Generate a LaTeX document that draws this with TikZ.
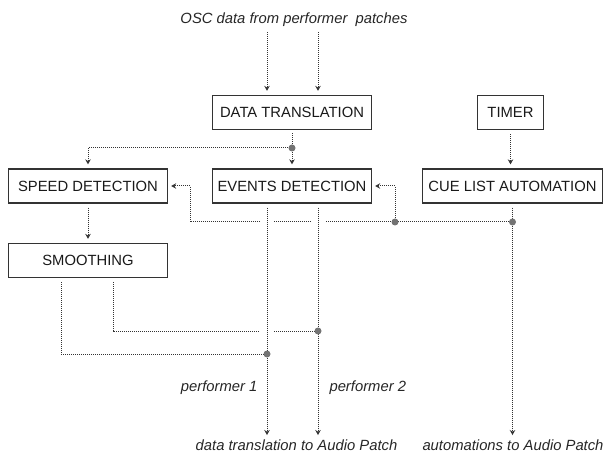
\documentclass[tikz,border=0pt]{standalone}
\usepackage{fontspec}
\setmainfont{Liberation Sans}
\usepackage{tikz}
\usetikzlibrary{calc, math}
\usetikzlibrary{arrows.meta}
\usetikzlibrary{positioning}
\definecolor{wirecolor}{rgb}{0.2,0.2,0.2}
\definecolor{dotcolor}{rgb}{0.45,0.45,0.45}
\definecolor{boxcolor}{rgb}{0.2,0.2,0.2}

\begin{document}
\begin{tikzpicture}[x=1pt, y=-1pt,
    block/.style={draw=boxcolor, line width=1.3pt, minimum height=34pt, inner sep=0pt,
      text=black!90, font=\fontsize{14.8}{17}\selectfont},
    textlabel/.style={text=black!85, font=\fontsize{14.8}{17}\selectfont\itshape},
    flow/.style={draw=wirecolor, line width=1pt, dash pattern=on 1pt off 1pt},
    arrowed/.style={-{Stealth[length=5pt, width=5.5pt]}}]
  \tikzmath{
    \ysplit=148;
    \ybus=222;
    \ymixb=331;
    \ymixa=354;
    \gap=7;
  }
  \useasboundingbox (0,0) rectangle (605,454);

  % boxes
  \node[textlabel] (osc) at (294,20) {OSC data from performer\ \ patches};
  \node[block, minimum width=159pt] (translation) at (292,112.5) {DATA TRANSLATION};
  \node[block, minimum width=66pt] (timer) at (510.5,112.5) {TIMER};
  \node[block, minimum width=159pt] (speed) at (88,186) {SPEED DETECTION};
  \node[block, minimum width=159pt] (events) at (292,186) {EVENTS DETECTION};
  \node[block, minimum width=180pt] (cue) at (512.5,186) {CUE LIST AUTOMATION};
  \node[block, minimum width=159pt] (smoothing) at (88,260.5) {SMOOTHING};

  % outputs
  \node[textlabel, anchor=east] (perfa) at (261,388) {performer 1};
  \node[textlabel, anchor=west] (perfb) at (326,388) {performer 2};
  \node[textlabel] (outdata) at (296.5,445) {data translation to Audio Patch};
  \node[textlabel] (outcue) at (513,445) {automations to Audio Patch};

  \coordinate (ina) at ([xshift=-25pt]translation.north);
  \coordinate (inb) at ([xshift=26pt]translation.north);
  \coordinate (outa) at ([xshift=-25pt]events.south);
  \coordinate (outb) at ([xshift=26pt]events.south);
  \coordinate (smootha) at ([xshift=-27pt]smoothing.south);
  \coordinate (smoothb) at ([xshift=25pt]smoothing.south);

  \coordinate (split) at (translation.south |- 0,\ysplit);
  \coordinate (busend) at (cue.south |- 0,\ybus);
  \coordinate (busmid) at (395,\ybus);
  \coordinate (busturn) at (190,\ybus);
  \coordinate (crossa) at (outa |- busmid);
  \coordinate (crossb) at (outb |- busmid);
  \coordinate (mixa) at (outa |- 0,\ymixa);
  \coordinate (mixb) at (outb |- 0,\ymixb);
  \coordinate (crossmix) at (outa |- mixb);

  % data from the performer patches
  \draw[flow, arrowed, shorten <=2pt, shorten >=4pt] (osc.south -| ina) -- (ina);
  \draw[flow, arrowed, shorten <=2pt, shorten >=4pt] (osc.south -| inb) -- (inb);

  \draw[flow, shorten <=3pt] (translation.south) -- (split);
  \draw[flow, arrowed, shorten >=4pt] (split) -- (events.north);
  \draw[flow, arrowed, shorten >=4pt] (split) -| (speed.north);
  \draw[flow, arrowed, shorten <=4pt, shorten >=4pt] (speed.south) -- (smoothing.north);
  \draw[flow, arrowed, shorten <=4pt, shorten >=4pt] (timer.south) -- (timer.south |- cue.north);

  % cue list goes back to both detections (gaps where it crosses)
  \draw[flow, arrowed, shorten <=4pt, shorten >=1pt] (cue.south) -- (cue.south |- outcue.north);
  \draw[flow] (busend) -- ([xshift=\gap pt]crossb);
  \draw[flow] ([xshift=-\gap pt]crossb) -- ([xshift=\gap pt]crossa);
  \draw[flow, arrowed, shorten >=3pt] ([xshift=-\gap pt]crossa) -- (busturn) |- (speed.east);
  \draw[flow, arrowed, shorten >=3pt] (busmid) |- (events.east);

  % one line per performer
  \draw[flow, arrowed, shorten <=4pt, shorten >=1pt] (outa) -- (outa |- outdata.north);
  \draw[flow, arrowed, shorten <=4pt, shorten >=1pt] (outb) -- (outb |- outdata.north);

  \draw[flow, shorten <=4pt] (smootha) |- (mixa);
  \draw[flow, shorten <=4pt] (smoothb) |- ([xshift=-\gap pt]crossmix);
  \draw[flow] ([xshift=\gap pt]crossmix) -- (mixb);

  \foreach \p in {split, busmid, busend, mixa, mixb}
    \fill[dotcolor] (\p) circle [radius=3.5pt];
\end{tikzpicture}
\end{document}
